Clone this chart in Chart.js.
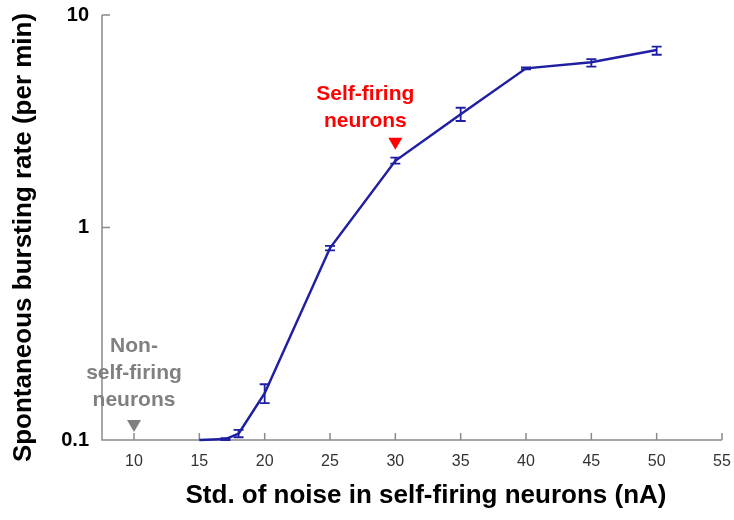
<!DOCTYPE html>
<html>
<head>
<meta charset="utf-8">
<script src="https://cdn.jsdelivr.net/npm/chart.js@4/dist/chart.umd.min.js"></script>
<style>
  html, body { margin: 0; padding: 0; background: #fff; }
  #wrap { width: 734px; height: 520px; }
</style>
</head>
<body>
<div id="wrap"><canvas id="rate"></canvas></div>
<script>
// noise std (nA) vs. spontaneous bursting rate (per min)
const noiseStd = [15, 17, 18, 20, 25, 30, 35, 40, 45, 50];
const burstRate = [0.1, 0.101, 0.107, 0.166, 0.80, 2.06, 3.41, 5.61, 5.99, 6.85];
const rateLow = [0.1, 0.1, 0.103, 0.149, 0.78, 2.0, 3.17, 5.55, 5.72, 6.5];
const rateHigh = [0.1, 0.102, 0.1115, 0.183, 0.82, 2.13, 3.66, 5.67, 6.2, 7.1];

const xTicks = [10, 15, 20, 25, 30, 35, 40, 45, 50, 55];
const yTicks = [0.1, 1, 10];

const xTitle = 'Std. of noise in self-firing neurons (nA)';
const yTitle = 'Spontaneous bursting rate (per min)';

const FONT = "'Liberation Sans', Arial, sans-serif";
const lineColor = '#1f1fa3';
const axisColor = '#8a8a8a';

// axes with inward tick marks
const axesPlugin = {
  id: 'axes',
  beforeDatasetsDraw(chart) {
    const { ctx, chartArea: a, scales: { x, y } } = chart;
    ctx.save();
    ctx.strokeStyle = axisColor;
    ctx.lineWidth = 1.5;
    ctx.beginPath();
    ctx.moveTo(a.left, a.top);
    ctx.lineTo(a.left, a.bottom);
    ctx.lineTo(a.right, a.bottom);
    xTicks.forEach(v => {
      const px = x.getPixelForValue(v);
      ctx.moveTo(px, a.bottom);
      ctx.lineTo(px, a.bottom - 7);
    });
    yTicks.forEach(v => {
      const py = y.getPixelForValue(v);
      ctx.moveTo(a.left, py);
      ctx.lineTo(a.left + 8, py);
    });
    ctx.stroke();

    // axis titles, a little off-centre from the plot area
    ctx.fillStyle = '#000';
    ctx.font = 'bold 26px ' + FONT;
    ctx.textAlign = 'center';
    ctx.textBaseline = 'middle';
    ctx.fillText(xTitle, (a.left + a.right) / 2 + 14, a.bottom + 56);
    ctx.translate(24, (a.top + a.bottom) / 2 + 10);
    ctx.rotate(-Math.PI / 2);
    ctx.fillText(yTitle, 0, 0);
    ctx.restore();
  }
};

// vertical error bars with caps
const errorBars = {
  id: 'errorBars',
  afterDatasetsDraw(chart) {
    const { ctx, scales: { x, y } } = chart;
    ctx.save();
    ctx.strokeStyle = lineColor;
    ctx.lineWidth = 1.8;
    noiseStd.forEach((v, i) => {
      if (rateHigh[i] - rateLow[i] <= 0) return;
      const px = x.getPixelForValue(v);
      const lo = y.getPixelForValue(rateLow[i]);
      const hi = y.getPixelForValue(rateHigh[i]);
      ctx.beginPath();
      ctx.moveTo(px, lo); ctx.lineTo(px, hi);
      ctx.moveTo(px - 5, lo); ctx.lineTo(px + 5, lo);
      ctx.moveTo(px - 5, hi); ctx.lineTo(px + 5, hi);
      ctx.stroke();
    });
    ctx.restore();
  }
};

// downward triangle pointing at a value on the x axis
function marker(ctx, cx, tipY, color) {
  ctx.fillStyle = color;
  ctx.beginPath();
  ctx.moveTo(cx - 7, tipY - 12);
  ctx.lineTo(cx + 7, tipY - 12);
  ctx.lineTo(cx, tipY);
  ctx.closePath();
  ctx.fill();
}

const notes = {
  id: 'notes',
  afterDraw(chart) {
    const { ctx, scales: { x, y } } = chart;
    ctx.save();
    ctx.font = 'bold 21px ' + FONT;
    ctx.textAlign = 'center';
    ctx.textBaseline = 'middle';

    const gx = x.getPixelForValue(10);
    const gy = y.getPixelForValue(0.1);
    marker(ctx, gx, gy - 8, '#808080');
    ['Non-', 'self-firing', 'neurons'].forEach((t, i) => {
      ctx.fillText(t, gx, gy - 94 + i * 27);
    });

    const rx = x.getPixelForValue(30);
    const ry = y.getPixelForValue(2.06);
    marker(ctx, rx, ry - 11, '#ff0000');
    ctx.fillStyle = '#ff0000';
    ctx.fillText('Self-firing', rx - 30, ry - 67);
    ctx.fillText('neurons', rx - 30, ry - 40);
    ctx.restore();
  }
};

new Chart(document.getElementById('rate'), {
  type: 'line',
  data: {
    datasets: [{
      data: noiseStd.map((v, i) => ({ x: v, y: burstRate[i] })),
      borderColor: lineColor,
      borderWidth: 2.5,
      pointRadius: 0,
      tension: 0,
      clip: false
    }]
  },
  options: {
    responsive: true,
    maintainAspectRatio: false,
    animation: false,
    layout: { padding: { left: 0, top: 15, right: 12, bottom: 0 } },
    plugins: { legend: { display: false }, tooltip: { enabled: false } },
    scales: {
      x: {
        type: 'linear',
        min: 7.55,
        max: 55,
        afterBuildTicks: s => { s.ticks = xTicks.map(v => ({ value: v })); },
        afterFit: s => { s.height = 80; s.paddingLeft = 0; s.paddingRight = 0; },
        grid: { display: false, drawTicks: false },
        border: { display: false },
        ticks: { color: '#333', padding: 12, font: { family: FONT, size: 16 }, maxRotation: 0 }
      },
      y: {
        type: 'logarithmic',
        min: 0.1,
        max: 10,
        afterBuildTicks: s => { s.ticks = yTicks.map(v => ({ value: v })); },
        afterFit: s => { s.width = 102; s.paddingTop = 0; s.paddingBottom = 0; },
        grid: { display: false, drawTicks: false },
        border: { display: false },
        ticks: {
          color: '#000',
          padding: 13,
          font: { family: FONT, size: 20, weight: 'bold' },
          callback: v => String(v)
        }
      }
    }
  },
  plugins: [axesPlugin, errorBars, notes]
});
</script>
</body>
</html>
